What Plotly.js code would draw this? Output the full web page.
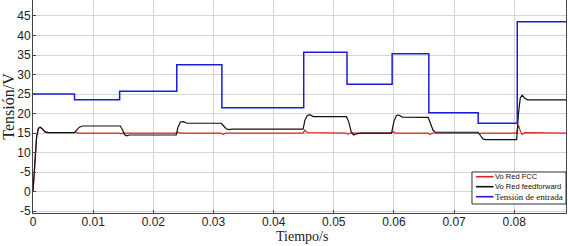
<!DOCTYPE html>
<html><head><meta charset="utf-8">
<script src="https://cdn.plot.ly/plotly-3.0.1.min.js"></script>
<style>html,body{margin:0;padding:0;background:#fff}#c{width:568px;height:246px}</style>
</head><body><div id="c"></div>
<script>
// Input voltage (step changes)
const entradaT = [0,0.0069,0.0144,0.0239,0.0314,0.045,0.0522,0.0597,0.0658,0.074,0.0805,0.0886];
const entradaV = [25,23.5,25.7,32.5,21.5,35.7,27.5,35.3,20.2,17.5,43.5,43.5];

// Vo Red feedforward
const ffT = [0,0.0003,0.0006,0.0009,0.0012,0.0016,0.002,0.0025,0.0069,0.0073,0.0077,0.0082,0.0145,0.0149,0.0152,0.0156,0.016,0.0238,0.0241,0.0245,0.025,0.0256,0.0313,0.0317,0.0321,0.0326,0.0331,0.0449,0.0452,0.0456,0.046,0.0466,0.0521,0.0525,0.0529,0.0533,0.0538,0.0545,0.0596,0.06,0.0604,0.0608,0.0614,0.0657,0.0661,0.0665,0.0669,0.074,0.0744,0.0748,0.0752,0.0804,0.0807,0.081,0.0813,0.0817,0.0822,0.0886];
const ffV = [0,8,14,16.2,16.5,16,15.3,15.1,15.1,15.8,16.5,16.8,16.8,15.8,14.6,14.3,14.5,14.5,16.5,17.8,17.9,17.5,17.5,16.8,16.1,15.9,16.0,16.0,18.3,19.5,19.7,19.2,19.2,17.8,15.3,14.5,14.8,15.0,15.0,18,19.5,19.6,19.1,19.0,17.5,15.7,15.2,15.2,14.3,13.5,13.3,13.3,20,24,24.7,24.0,23.5,23.5];

// Vo Red FCC
const fccT = [0,0.0003,0.0006,0.0009,0.0012,0.0016,0.002,0.0025,0.0069,0.0071,0.0074,0.0144,0.0146,0.0149,0.0239,0.0241,0.0244,0.0313,0.0316,0.032,0.0449,0.0452,0.0456,0.0521,0.0524,0.0527,0.0596,0.0599,0.0602,0.0657,0.066,0.0664,0.074,0.0743,0.0746,0.0804,0.0807,0.081,0.0813,0.0817,0.0886];
const fccV = [0,8,14,16.2,16.5,16,15.3,15.1,15.1,15.3,15.0,15.0,14.8,15.0,15.0,15.2,15.0,15.0,14.6,15.0,15.0,15.8,15.1,15.0,14.7,15.0,15.0,15.4,15.0,15.0,14.6,15.0,15.0,14.8,15.0,15.0,17.0,15.5,14.6,15.1,15.0];

const yTickVals = [-5,0,5,10,15,20,25,30,35,40,45];
const yTickText = ["-5","0","-5","10","15","20","25","30","35","40","45"];
const xTickVals = [0,0.01,0.02,0.03,0.04,0.05,0.06,0.07,0.08];
const xTickText = ["0","0.01","0.02","0.03","0.04","0.05","0.06","0.07","0.08"];

const seriesNames = ["Vo Red FCC","Vo Red feedforward","Tensión de entrada"];
const seriesColors = ["#e0201c","#111111","#1c1cd8"];

const serif = "Liberation Serif, Times New Roman, serif";
const sans = "Liberation Sans, Arial, sans-serif";

const traces = [
  {x: fccT, y: fccV, mode:'lines', name:seriesNames[0], line:{color:seriesColors[0], width:1.2}, showlegend:false},
  {x: ffT, y: ffV, mode:'lines', name:seriesNames[1], line:{color:seriesColors[1], width:1.2}, showlegend:false},
  {x: entradaT, y: entradaV, mode:'lines', name:seriesNames[2], line:{color:seriesColors[2], width:1.5, shape:'hv'}, showlegend:false}
];

// compact legend built from shapes + annotations (paper coords)
const legX0 = 0.8236, legX1 = 1.0, legY0 = 0.0423, legY1 = 0.1925;
const entryY = [0.1704, 0.1235, 0.0765];
const shapes = [{type:'rect', xref:'paper', yref:'paper', x0:legX0, x1:legX1, y0:legY0, y1:legY1,
                 fillcolor:'#fff', line:{color:'#333', width:1}, layer:'above'}];
const annotations = [];
seriesNames.forEach((n,i)=>{
  shapes.push({type:'line', xref:'paper', yref:'paper', x0:0.831, x1:0.864, y0:entryY[i], y1:entryY[i],
               line:{color:seriesColors[i], width:1.6}, layer:'above'});
  annotations.push({xref:'paper', yref:'paper', x:0.865, y:entryY[i], xanchor:'left', yanchor:'middle',
    text:n, showarrow:false, borderpad:0,
    font: i===2 ? {family:serif, size:9, color:'#111'} : {family:sans, size:7.5, color:'#111'}});
});
// x-axis title placed explicitly
annotations.push({xref:'paper', yref:'paper', x:0.505, y:-0.112, xanchor:'center', yanchor:'middle',
  text:'Tiempo/s', showarrow:false, borderpad:0, font:{family:serif, size:14, color:'#222'}});

const layout = {
  width:568, height:246,
  margin:{l:33, r:2, t:0, b:33},
  paper_bgcolor:'#fff', plot_bgcolor:'#fff',
  showlegend:false,
  shapes: shapes, annotations: annotations,
  xaxis:{range:[0,0.0886], tickvals:xTickVals, ticktext:xTickText, showgrid:true, gridcolor:'#d4d4d4', gridwidth:1,
         showline:true, linecolor:'#444', linewidth:1, mirror:true, ticks:'inside', ticklen:3, tickcolor:'#444',
         zeroline:false, tickfont:{family:sans, size:12, color:'#222'}, ticklabelstandoff:-2,
         automargin:false},
  yaxis:{range:[-5.5,49.1], tickvals:yTickVals, ticktext:yTickText, showgrid:true, gridcolor:'#d4d4d4', gridwidth:1,
         showline:true, linecolor:'#444', linewidth:1, mirror:true, ticks:'inside', ticklen:3, tickcolor:'#444',
         zeroline:false, tickfont:{family:sans, size:12, color:'#222'}, ticklabelstandoff:-1,
         automargin:false,
         title:{text:'Tensión/V', font:{family:serif, size:16, color:'#222'}, standoff:0}}
};
Plotly.newPlot('c', traces, layout, {displayModeBar:false, staticPlot:true});
</script>
</body></html>
